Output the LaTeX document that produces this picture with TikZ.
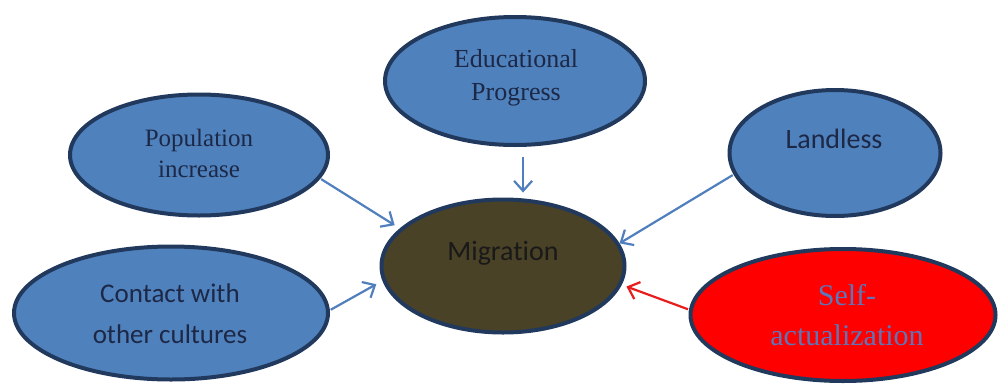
\documentclass[tikz,border=0pt]{standalone}
\usepackage{fontspec}
\setmainfont{Liberation Serif}
\newfontfamily\calibri[Ligatures=NoCommon]{Carlito}
\usetikzlibrary{shapes.geometric,arrows.meta}
\definecolor{blfill}{HTML}{4F81BD}
\definecolor{bord}{HTML}{22395E}
\definecolor{migfill}{HTML}{4A4226}
\definecolor{redfill}{HTML}{FF0000}
\definecolor{arrblue}{HTML}{4F7FBD}
\definecolor{arrred}{HTML}{E81E1E}
\definecolor{navy}{HTML}{1C2846}
\definecolor{selftxt}{HTML}{5E76B8}
\begin{document}
\begin{tikzpicture}[x=1pt,y=-1pt,
  bub/.style={ellipse,draw=bord,line width=4pt,fill=blfill,inner sep=0pt},
  arr/.style={draw=arrblue,line width=2.2pt,-{Straight Barb[length=10pt,width=18pt]}},
  lbl/.style={inner sep=0pt,align=center,text=navy}]
\useasboundingbox (0,0) rectangle (998,383);
% ellipses
\node[bub,minimum width=258pt,minimum height=121pt] (pop) at (199,155) {};
\node[bub,minimum width=260pt,minimum height=128pt] (edu) at (515,81) {};
\node[bub,minimum width=211pt,minimum height=126pt] (land) at (835,153) {};
\node[bub,fill=migfill,minimum width=243pt,minimum height=133pt] (mig) at (503,266) {};
\node[bub,minimum width=314pt,minimum height=133pt] (cont) at (171,313) {};
\node[bub,fill=redfill,minimum width=305pt,minimum height=132pt] (self) at (843,315) {};
% texts
\node[lbl,font=\fontsize{25}{31}\selectfont] (popt) at (199,153) {Population\\increase};
\node[lbl,font=\fontsize{26}{33}\selectfont] (edut) at (516,77.5) {Educational\\Progress};
\node[lbl,anchor=base,font=\calibri\fontsize{28}{34}\selectfont] (landt) at (834,148) {Landless};
\node[lbl,anchor=base,text=black!90,font=\calibri\fontsize{28}{34}\selectfont] (migt) at (503,260) {Migration};
\node[lbl,font=\calibri\fontsize{27}{41}\selectfont] (contt) at (170,314) {Contact with\\other cultures};
\node[lbl,text=selftxt,font=\fontsize{30}{40}\selectfont] (selft) at (847,315) {Self-\\actualization};
% connectors
\draw[arr,shorten <=1pt,shorten >=6pt] (pop.-11) -- (mig.160);
\draw[arr,shorten <=10pt,shorten >=5pt] (edu.-83) -- (edu.-83 |- mig.north);
\draw[arr,shorten <=1pt,shorten >=0pt] (land.192) -- (mig.11);
\draw[arr,shorten <=1pt,shorten >=7pt] (cont.1) -- (mig.187);
\draw[arr,draw=arrred,shorten <=1pt,shorten >=5pt] (self.178) -- (mig.-9);
\end{tikzpicture}
\end{document}
